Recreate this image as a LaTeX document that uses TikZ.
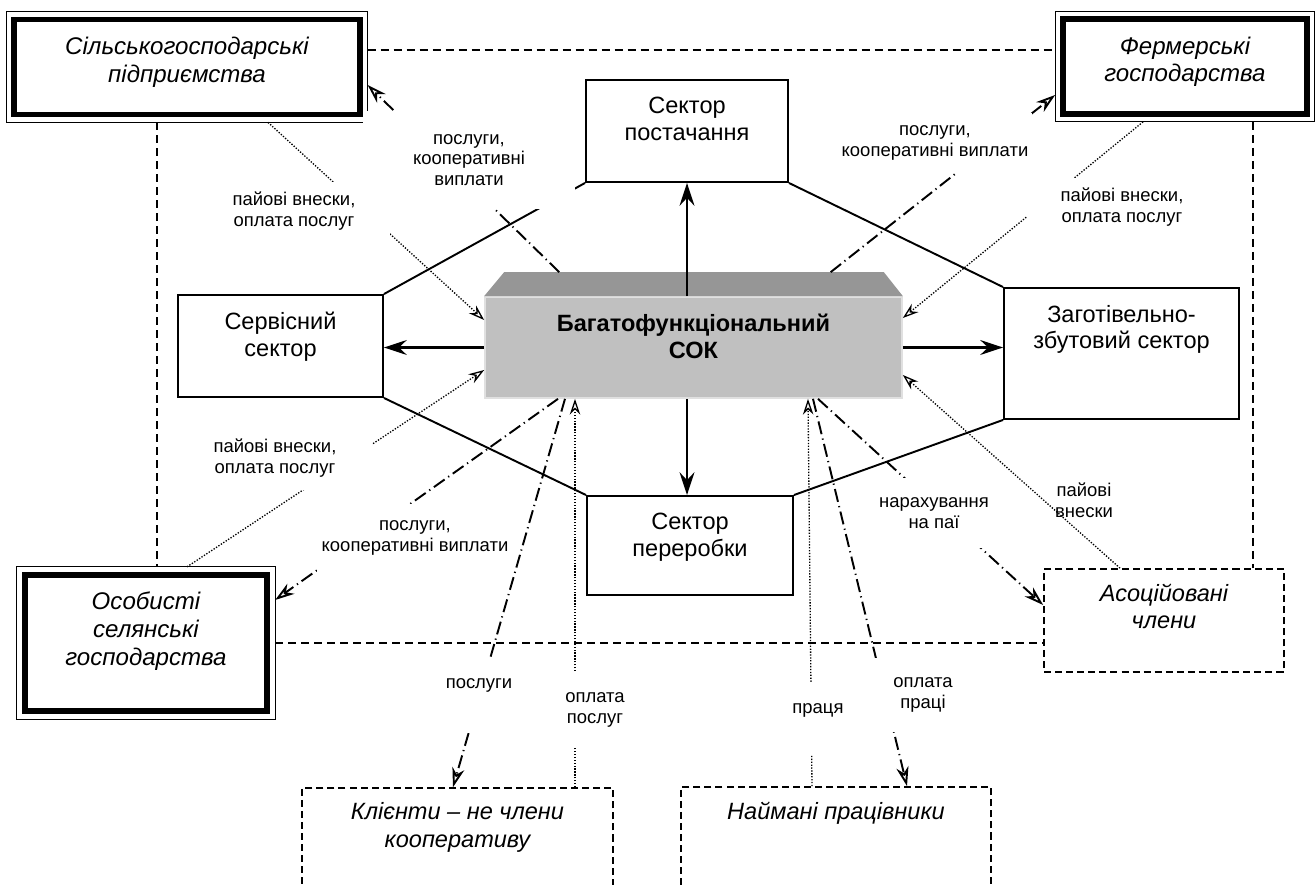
\documentclass[tikz,border=0pt]{standalone}
\usepackage{fontspec}
\setmainfont{Liberation Sans}
\usetikzlibrary{arrows.meta, calc}

\definecolor{sokfront}{HTML}{C0C0C0}
\definecolor{soktop}{HTML}{969696}

\tikzset{
  sector/.style={draw, rectangle, line width=1.1pt, text centered},
  member/.style={draw, rectangle, line width=3.3pt, outer sep=4.5pt, text centered},
  outsider/.style={draw, rectangle, line width=1pt, dash pattern=on 4pt off 2.3pt, text centered},
  sectortext/.style={anchor=north, yshift=-10pt, align=center, inner sep=0pt, font=\fontsize{13.4}{15.3}\selectfont},
  membertext/.style={anchor=north, yshift=-14.3pt, align=center, inner sep=0pt, font=\fontsize{13.7}{15.9}\selectfont\itshape},
  outsidertext/.style={anchor=north, yshift=-8.7pt, align=center, inner sep=0pt, font=\fontsize{13.4}{15.5}\selectfont\itshape},
  flowlbl/.style={align=center, inner sep=0pt, font=\fontsize{10.5}{11.8}\selectfont},
  masked/.style={flowlbl, fill=white},
  link/.style={line width=1.1pt},
  flow/.style={line width=1.2pt, -{Stealth[length=13pt, width=8.5pt, inset=4.5pt]}},
  tie/.style={line width=1pt, dash pattern=on 4.5pt off 2.9pt},
  pay/.style={line width=0.75pt, dash pattern=on 0.75pt off 0.9pt, -{Stealth[open, length=9pt, width=6pt, inset=3pt]}},
  serve/.style={line width=1.1pt, dash pattern=on 7.5pt off 2.5pt on 0.7pt off 2.5pt, -{Stealth[open, length=11pt, width=7pt, inset=3.5pt]}}
}

\begin{document}
\begin{tikzpicture}[x=0.02cm, y=-0.02cm]
  \useasboundingbox (0,0) rectangle (1316,885);
  \clip (0,0) rectangle (1316,885);

  % nodes %
  \node[member, minimum width=6.91cm, minimum height=1.9cm,
        label={[membertext]north:Сільськогосподарські\\підприємства}] (sil) at (187,67) {};
  \node[member, minimum width=4.88cm, minimum height=1.9cm,
        label={[membertext]north:Фермерські\\господарства}] (fer) at (1185,66.5) {};
  \node[member, minimum width=4.85cm, minimum height=2.73cm,
        label={[membertext]north:Особисті\\селянські\\господарства}] (osob) at (146,643) {};
  \foreach \m in {sil, fer, osob}
    \draw[line width=0.6pt] (\m.north west) rectangle (\m.south east);

  \node[sector, minimum width=4.04cm, minimum height=2.04cm,
        label={[sectortext]north:Сектор\\постачання}] (post) at (687,131) {};
  \node[sector, minimum width=4.1cm, minimum height=2.04cm,
        label={[sectortext]north:Сервісний\\сектор}] (serv) at (280.5,346) {};
  \node[sector, minimum width=4.7cm, minimum height=2.62cm,
        label={[sectortext]north:Заготівельно-\\збутовий сектор}] (zag) at (1121.5,353.5) {};
  \node[sector, minimum width=4.12cm, minimum height=1.98cm,
        label={[sectortext]north:Сектор\\переробки}] (pere) at (690,545.5) {};

  \node[sector, draw=black!12, fill=sokfront, line width=1pt, minimum width=8.34cm, minimum height=2.02cm,
        label={[sectortext, font=\bfseries\fontsize{13.4}{15.3}\selectfont]north:Багатофункціональний\\СОК}] (sok) at (693.5,347.5) {};
  \coordinate (soktopw) at ($(sok.north west)+(20,-24)$);
  \coordinate (soktope) at ($(sok.north east)+(-19,-24)$);
  \fill[soktop] (sok.north west) -- (soktopw) -- (soktope) -- (sok.north east) -- cycle;

  \node[outsider, minimum width=4.8cm, minimum height=2.06cm,
        label={[outsidertext]north:Асоційовані\\члени}] (asoc) at (1164,620.5) {};
  \node[outsider, minimum width=6.22cm, minimum height=2.6cm,
        label={[outsidertext]north:Клієнти – не члени\\кооперативу}] (klient) at (457.5,853) {};
  \node[outsider, minimum width=6.2cm, minimum height=2.6cm,
        label={[outsidertext]north:Наймані працівники}] (naym) at (836,852) {};

  % edges %
  \draw[link] (serv.north east) -- (post.south west);
  \draw[link] (post.south east) -- (zag.north west);
  \draw[link] (serv.south east) -- (pere.north west);
  \draw[link] (pere.north east) -- (zag.south west);

  \draw[flow] (post.south |- sok.north) -- (post.south);
  \draw[flow] (post.south |- sok.south) -- (post.south |- pere.north);
  \draw[flow] (sok.west) -- (sok.west -| serv.east);
  \draw[flow] (sok.east) -- (sok.east -| zag.west);

  \draw[tie] (sil.east |- 0,50) -- (fer.west |- 0,50);
  \draw[tie] (sil.south -| 157,0) -- (osob.north -| 157,0);
  \draw[tie] (fer.south -| 1253,0) -- (asoc.north -| 1253,0);
  \draw[tie] (osob.east) -- (osob.east -| asoc.west);

  \draw[pay] (sil.south -| 268,0) -- (sok.west |- 0,320);
  \draw[pay] (fer.south -| 1143,0) -- (sok.east |- 0,318);
  \draw[pay] (osob.north -| 187,0) -- (sok.west |- 0,370);
  \draw[pay] (asoc.north -| 1120,0) -- (sok.east |- 0,375);
  \draw[pay] (klient.north -| 575,0) -- (sok.south -| 575,0);
  \draw[pay] (naym.north -| 812,0) -- (sok.south -| 808,0);

  \draw[serve] ($(soktopw)!0.145!(soktope)$) -- (sil.east |- 0,85);
  \draw[serve] ($(soktopw)!0.86!(soktope)$) -- (fer.west |- 0,95);
  \draw[serve] (sok.south -| 558,0) -- (osob.east |- 0,600);
  \draw[serve] (sok.south -| 818,0) -- (asoc.west |- 0,605);
  \draw[serve] (sok.south -| 565,0) -- (klient.north -| 453,0);
  \draw[serve] (sok.south -| 813,0) -- (naym.north -| 907,0);

  % labels %
  \node[masked, minimum width=4.24cm, minimum height=1.96cm] (servsil) at (469,160) {послуги,\\кооперативні\\виплати};
  \node[masked, minimum width=3.84cm, minimum height=1.16cm] (paysil) at (294,211) {пайові внески,\\оплата послуг};
  \node[masked, minimum width=3.88cm, minimum height=1.2cm] (servfer) at (935,143) {послуги,\\кооперативні виплати};
  \node[masked, minimum width=3.8cm, minimum height=1.16cm] (payfer) at (1122,207) {пайові внески,\\оплата послуг};
  \node[masked, minimum width=3.88cm, minimum height=1.28cm] (payosob) at (275,458) {пайові внески,\\оплата послуг};
  \node[masked, minimum width=3.92cm, minimum height=1.36cm] (servosob) at (415,538) {послуги,\\кооперативні виплати};
  \node[masked, minimum width=2.4cm, minimum height=1.4cm] (servasoc) at (934,513) {нарахування\\на паї};
  \node[flowlbl] (payasoc) at (1084,500) {пайові\\внески};
  \node[masked, inner xsep=3pt, text height=15.9pt, text depth=25.5pt] (servkl) at (479,696.5) {послуги};
  \node[masked, minimum width=1.6cm, minimum height=1.52cm] (paykl) at (595,710) {оплата\\послуг};
  \node[masked, inner xsep=3pt, text height=17pt, text depth=23.8pt] (payn) at (818,719) {праця};
  \node[masked, minimum width=2.12cm, minimum height=1.48cm] (servn) at (923,695) {оплата\\праці};
\end{tikzpicture}
\end{document}
